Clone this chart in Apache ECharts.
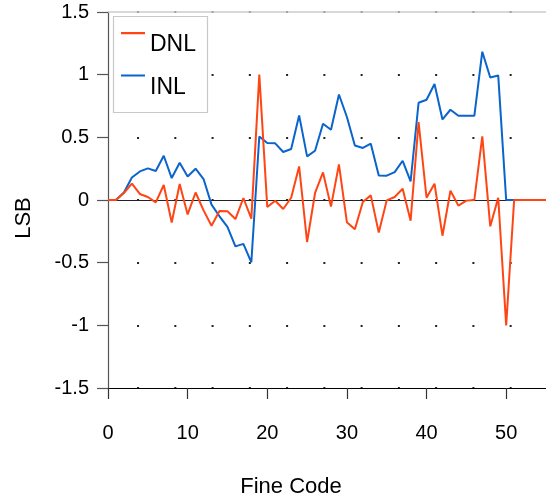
<!DOCTYPE html>
<html>
<head>
<meta charset="utf-8">
<script src="https://cdn.jsdelivr.net/npm/echarts@6/dist/echarts.min.js"></script>
<style>html,body{margin:0;padding:0;background:#fff}#c{width:546px;height:498px}</style>
</head>
<body>
<div id="c"></div>
<script>
var codes = [];
for (var i = 0; i <= 55; i++) codes.push(i);
var dnl = [0,0,0.056,0.13,0.048,0.024,-0.019,0.12,-0.18,0.128,-0.115,0.06,-0.083,-0.205,-0.088,-0.09,-0.152,0.016,-0.149,1.0,
  -0.056,-0.006,-0.072,0.018,0.268,-0.335,0.056,0.22,-0.053,0.284,-0.178,-0.234,-0.016,0.037,-0.26,-0.003,0.024,0.09,-0.165,0.622,
  0.018,0.13,-0.285,0.074,-0.045,-0.005,0,0.507,-0.21,0.018,-1.0,0,0,0,0,0];
var inl = [0,0,0.06,0.18,0.228,0.252,0.231,0.353,0.175,0.297,0.188,0.25,0.167,-0.037,-0.13,-0.215,-0.37,-0.35,-0.497,0.507,
  0.455,0.452,0.383,0.407,0.675,0.348,0.393,0.608,0.561,0.842,0.662,0.435,0.415,0.449,0.196,0.194,0.223,0.313,0.148,0.776,
  0.8,0.925,0.643,0.72,0.672,0.672,0.672,1.183,0.978,0.994,0,0,0,0,0,0];
var xTicks = [0,10,20,30,40,50];
var yTicks = [-1.5,-1,-0.5,0,0.5,1,1.5];

function pairs(v){ return codes.map(function(c,i){ return [c, v[i]]; }); }
var FONT = 'Liberation Sans';
var chart = echarts.init(document.getElementById('c'));
chart.setOption({
  animation: false,
  backgroundColor: '#fff',
  textStyle: {fontFamily: FONT},
  grid: {left: 108, right: 0, top: 12, bottom: 110, containLabel: false, outerBoundsMode: 'none'},
  xAxis: [{
    type: 'value', min: 0, max: 55, position: 'bottom',
    name: 'Fine Code', nameLocation: 'middle', nameGap: 88,
    nameTextStyle: {fontSize: 22, color: '#000', fontFamily: FONT, padding: [0, 72, 0, 0]},
    axisLine: {show: true, onZero: false, lineStyle: {color: '#000', width: 1.2}},
    axisTick: {show: true, inside: false, length: 11, customValues: xTicks, lineStyle: {color: '#333', width: 1.2}},
    axisLabel: {show: true, margin: 35, fontSize: 20, color: '#000', fontFamily: FONT, customValues: xTicks, formatter: function(v){return String(v);}},
    splitLine: {show: false}
  }, {
    type: 'value', min: 0, max: 55, position: 'top',
    axisLine: {show: true, onZero: false, lineStyle: {color: '#cccccc', width: 1.5}},
    axisTick: {show: false}, axisLabel: {show: false}, splitLine: {show: false}
  }],
  yAxis: {
    type: 'value', min: -1.5, max: 1.5, interval: 0.5,
    name: 'LSB', nameLocation: 'middle', nameGap: 73, nameRotate: 90,
    nameTextStyle: {fontSize: 22, color: '#000', fontFamily: FONT, padding: [0, 36, 0, 0]},
    axisLine: {show: true, lineStyle: {color: '#555', width: 1.2}},
    axisTick: {show: true, inside: false, length: 11, lineStyle: {color: '#555', width: 1.2}},
    axisLabel: {margin: 19, fontSize: 20, color: '#000', fontFamily: FONT, formatter: function(v){return String(v);}},
    splitLine: {show: true, lineStyle: {color: '#222', width: 2, type: [2, 35.26], dashOffset: 8.2}}
  },
  legend: {
    orient: 'vertical', left: 121, top: 32, padding: 0, z: 8,
    itemWidth: 24, itemHeight: 26, itemGap: 16.4,
    icon: 'path://M0,0H24V2.2H0Z M0,26H0.01V26.01H0Z',
    itemStyle: {borderWidth: 0},
    lineStyle: {width: 0},
    data: ['DNL', 'INL'],
    textStyle: {fontSize: 23, color: '#000', fontFamily: FONT}
  },
  graphic: [{
    type: 'rect', shape: {x: 113.5, y: 16.5, width: 94, height: 96},
    style: {fill: '#ffffff', stroke: '#c8c8c8', lineWidth: 1.2}, silent: true, z: 6
  }],
  series: [{
    name: 'INL', type: 'line', data: pairs(inl), symbol: 'none', smooth: false,
    lineStyle: {color: '#0a64cc', width: 2}, itemStyle: {color: '#0a64cc'},
    z: 2
  }, {
    name: 'DNL', type: 'line', data: pairs(dnl), symbol: 'none', smooth: false,
    lineStyle: {color: '#ff4514', width: 2}, itemStyle: {color: '#ff4514'},
    markLine: {silent: true, symbol: 'none', label: {show: false},
      lineStyle: {color: '#222', width: 1.2, type: 'solid'}, data: [{yAxis: 0}], z: 1},
    z: 3
  }]
});
</script>
</body>
</html>
